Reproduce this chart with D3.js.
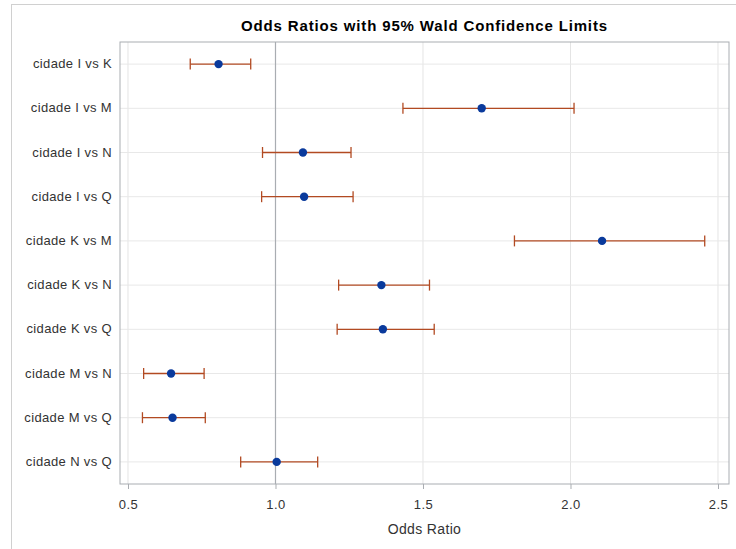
<!DOCTYPE html>
<html lang="en">

<head>
    <meta charset="UTF-8">
    <title>Odds Ratios</title>
    <style>
        body {
            margin: 0;
            background: #fff;
        }

        text {
            font-family: "Liberation Sans", Arial, sans-serif;
            fill: #333;
        }
    </style>
</head>

<body>
    <div id="wrapper"></div>

    <script src="https://d3js.org/d3.v7.min.js"></script>
    <script>
        // dados
        const comparisons = ["cidade I vs K", "cidade I vs M", "cidade I vs N", "cidade I vs Q", "cidade K vs M",
            "cidade K vs N", "cidade K vs Q", "cidade M vs N", "cidade M vs Q", "cidade N vs Q"];
        const oddsRatio = [0.807, 1.699, 1.093, 1.097, 2.107, 1.359, 1.364, 0.646, 0.651, 1.004];
        const lowerCL = [0.711, 1.432, 0.956, 0.953, 1.810, 1.214, 1.209, 0.553, 0.549, 0.882];
        const upperCL = [0.916, 2.012, 1.256, 1.263, 2.455, 1.522, 1.538, 0.758, 0.762, 1.143];
        const xTicks = [0.5, 1.0, 1.5, 2.0, 2.5];

        const width = 736,
            height = 549,
            plot = { left: 120, right: 729, top: 42, bottom: 484 };

        const svg = d3.select('#wrapper').append('svg')
            .attr('width', width)
            .attr('height', height);

        // borda externa
        svg.append('rect')
            .attr('x', 11.5).attr('y', 4.5)
            .attr('width', width).attr('height', height)
            .attr('fill', 'none')
            .attr('stroke', '#d0d0d0');

        const data = comparisons.map((c, i) => ({
            label: c,
            or: oddsRatio[i],
            lo: lowerCL[i],
            hi: upperCL[i]
        }));

        const xScale = d3.scaleLinear()
            .domain([0.4729, 2.5373])
            .range([plot.left, plot.right]);

        const yScale = d3.scaleBand()
            .domain(comparisons)
            .range([plot.top, plot.bottom]);

        const yc = d => yScale(d) + yScale.bandwidth() / 2;

        // grade
        svg.append('g')
            .selectAll('line')
            .data(xTicks)
            .join('line')
            .attr('x1', d => xScale(d)).attr('x2', d => xScale(d))
            .attr('y1', plot.top).attr('y2', plot.bottom)
            .attr('stroke', '#e4e4e4');

        svg.append('g')
            .selectAll('line')
            .data(comparisons)
            .join('line')
            .attr('x1', plot.left).attr('x2', plot.right)
            .attr('y1', d => yc(d)).attr('y2', d => yc(d))
            .attr('stroke', '#e8e8e8');

        // linha de referencia em 1
        svg.append('line')
            .attr('x1', xScale(1)).attr('x2', xScale(1))
            .attr('y1', plot.top).attr('y2', plot.bottom)
            .attr('stroke', '#a9adb2')
            .attr('stroke-width', 1.2);

        // moldura
        svg.append('rect')
            .attr('x', plot.left).attr('y', plot.top)
            .attr('width', plot.right - plot.left)
            .attr('height', plot.bottom - plot.top)
            .attr('fill', 'none')
            .attr('stroke', '#a9adb2');

        // eixo X
        const xAxis = d3.axisBottom(xScale)
            .tickValues(xTicks)
            .tickFormat(d3.format('.1f'))
            .tickSizeOuter(0)
            .tickSize(5)
            .tickPadding(11);

        const gx = svg.append('g')
            .attr('transform', `translate(0,${plot.bottom})`)
            .call(xAxis);
        gx.select('.domain').remove();
        gx.selectAll('line').attr('stroke', '#a9adb2');
        gx.selectAll('text')
            .style('font-size', '13px')
            .style('letter-spacing', '0.4px')
            .style('font-family', '"Liberation Sans", Arial, sans-serif')
            .attr('fill', '#333');

        // eixo Y
        const yAxis = d3.axisLeft(yScale)
            .tickSize(0)
            .tickPadding(8);

        const gy = svg.append('g')
            .attr('transform', `translate(${plot.left},0)`)
            .call(yAxis);
        gy.select('.domain').remove();
        gy.selectAll('text')
            .style('font-size', '13px')
            .style('letter-spacing', '0.35px')
            .style('font-family', '"Liberation Sans", Arial, sans-serif')
            .attr('fill', '#333');

        // intervalos de confianca
        const bars = svg.append('g')
            .attr('stroke', '#b24a22')
            .attr('stroke-width', 1.3);

        bars.selectAll('.ci')
            .data(data)
            .join('line')
            .attr('class', 'ci')
            .attr('x1', d => xScale(d.lo)).attr('x2', d => xScale(d.hi))
            .attr('y1', d => yc(d.label)).attr('y2', d => yc(d.label));

        bars.selectAll('.cap-lo')
            .data(data)
            .join('line')
            .attr('class', 'cap-lo')
            .attr('x1', d => xScale(d.lo)).attr('x2', d => xScale(d.lo))
            .attr('y1', d => yc(d.label) - 5.5).attr('y2', d => yc(d.label) + 5.5);

        bars.selectAll('.cap-hi')
            .data(data)
            .join('line')
            .attr('class', 'cap-hi')
            .attr('x1', d => xScale(d.hi)).attr('x2', d => xScale(d.hi))
            .attr('y1', d => yc(d.label) - 5.5).attr('y2', d => yc(d.label) + 5.5);

        // pontos
        svg.append('g')
            .selectAll('circle')
            .data(data)
            .join('circle')
            .attr('cx', d => xScale(d.or))
            .attr('cy', d => yc(d.label))
            .attr('r', 4.2)
            .attr('fill', '#0a3a9c');

        // titulos
        svg.append('text')
            .attr('x', (plot.left + plot.right) / 2)
            .attr('y', 30.5)
            .attr('text-anchor', 'middle')
            .style('font-size', '15px')
            .style('letter-spacing', '0.85px')
            .style('font-weight', 'bold')
            .style('fill', '#000')
            .text('Odds Ratios with 95% Wald Confidence Limits');

        svg.append('text')
            .attr('x', (plot.left + plot.right) / 2)
            .attr('y', 534)
            .attr('text-anchor', 'middle')
            .style('font-size', '14px')
            .style('letter-spacing', '0.35px')
            .text('Odds Ratio');
    </script>
</body>

</html>
